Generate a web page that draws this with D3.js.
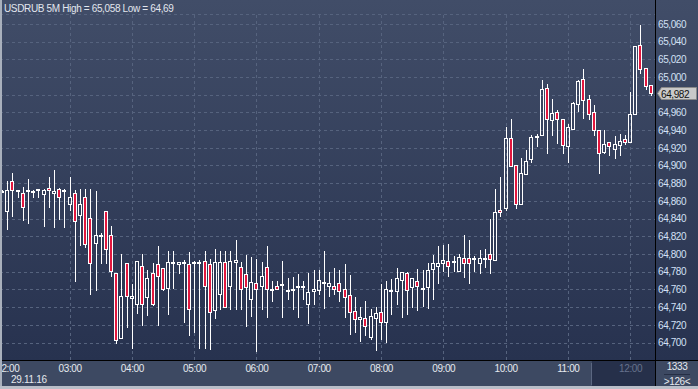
<!DOCTYPE html>
<html>
<head>
<meta charset="utf-8">
<script src="https://cdn.jsdelivr.net/npm/d3@7"></script>
<style>
body { margin: 0; background: #3c4862; }
svg { display: block; }
text { font-family: "Liberation Sans", Arial, sans-serif; }
</style>
</head>
<body>
<div id="chart"></div>
<script>
// 5 minute USDRUB candles, 29.11.16, first bar 01:55
var barStart = new Date(2016, 10, 29, 1, 55),
    barMinutes = 5;

var open = [64.871,64.849,64.883,64.871,64.869,64.872,64.871,64.872,64.868,64.875,64.869,64.874,64.872,64.856,64.869,64.844,64.864,64.841,64.812,64.822,
  64.849,64.822,64.779,64.705,64.790,64.750,64.743,64.786,64.751,64.778,64.789,64.784,64.762,64.791,64.789,64.791,64.789,64.791,64.790,64.792,
  64.789,64.737,64.755,64.791,64.764,64.791,64.785,64.777,64.749,64.767,64.764,64.785,64.761,64.764,64.766,64.759,64.759,64.764,64.764,64.743,
  64.758,64.759,64.768,64.764,64.764,64.767,64.761,64.754,64.736,64.727,64.728,64.706,64.728,64.734,64.723,64.759,64.758,64.771,64.778,64.763,
  64.770,64.760,64.763,64.783,64.786,64.790,64.792,64.792,64.781,64.796,64.795,64.795,64.790,64.795,64.800,64.793,64.850,64.852,64.931,64.900,
  64.856,64.890,64.907,64.933,64.934,64.988,64.951,64.960,64.953,64.922,64.941,64.969,64.998,64.975,64.960,64.940,64.915,64.926,64.919,64.923,
  64.930,64.927,64.958,65.036,65.010,64.991];
var high = [64.872,64.882,64.891,64.872,64.876,64.885,64.872,64.873,64.873,64.887,64.895,64.875,64.873,64.887,64.872,64.873,64.873,64.873,64.871,64.824,
  64.849,64.832,64.779,64.800,64.790,64.766,64.792,64.800,64.782,64.790,64.809,64.784,64.803,64.803,64.791,64.793,64.802,64.792,64.793,64.803,
  64.794,64.806,64.803,64.803,64.803,64.816,64.791,64.799,64.797,64.794,64.791,64.809,64.769,64.769,64.792,64.773,64.774,64.777,64.769,64.779,
  64.782,64.782,64.803,64.780,64.784,64.782,64.789,64.776,64.751,64.740,64.747,64.738,64.740,64.766,64.769,64.772,64.784,64.780,64.780,64.773,
  64.783,64.782,64.790,64.799,64.809,64.810,64.811,64.798,64.800,64.821,64.816,64.798,64.804,64.806,64.839,64.874,64.887,64.943,64.953,64.900,
  64.908,64.917,64.934,64.936,64.997,64.992,64.975,64.963,64.953,64.947,64.972,64.997,65.009,64.980,64.968,64.940,64.940,64.926,64.933,64.936,
  64.934,64.983,65.035,65.059,65.010,64.991];
var low = [64.870,64.828,64.843,64.864,64.838,64.835,64.864,64.864,64.832,64.853,64.831,64.839,64.831,64.850,64.770,64.810,64.808,64.755,64.759,64.790,
  64.790,64.775,64.700,64.705,64.718,64.694,64.733,64.720,64.731,64.742,64.720,64.759,64.732,64.762,64.779,64.723,64.709,64.712,64.694,64.694,
  64.693,64.728,64.738,64.740,64.738,64.738,64.738,64.719,64.730,64.690,64.738,64.729,64.747,64.760,64.729,64.749,64.738,64.729,64.749,64.722,
  64.744,64.755,64.739,64.753,64.755,64.747,64.729,64.710,64.712,64.702,64.709,64.704,64.691,64.704,64.701,64.732,64.743,64.729,64.732,64.740,
  64.737,64.741,64.739,64.749,64.767,64.781,64.775,64.781,64.781,64.774,64.767,64.781,64.778,64.785,64.779,64.793,64.843,64.850,64.899,64.852,
  64.856,64.890,64.904,64.922,64.934,64.914,64.934,64.925,64.914,64.904,64.941,64.962,64.954,64.953,64.934,64.891,64.914,64.912,64.908,64.912,
  64.924,64.926,64.958,65.005,64.986,64.980];
var close = [64.871,64.872,64.872,64.872,64.853,64.872,64.871,64.873,64.872,64.872,64.871,64.864,64.872,64.864,64.837,64.856,64.811,64.790,64.821,64.822,
  64.806,64.781,64.703,64.752,64.752,64.752,64.792,64.744,64.773,64.744,64.775,64.761,64.791,64.791,64.791,64.791,64.738,64.791,64.791,64.764,
  64.735,64.791,64.791,64.740,64.792,64.793,64.761,64.763,64.768,64.761,64.775,64.760,64.761,64.760,64.766,64.759,64.760,64.764,64.764,64.757,
  64.760,64.771,64.768,64.767,64.761,64.758,64.751,64.735,64.726,64.729,64.719,64.730,64.733,64.723,64.760,64.759,64.773,64.780,64.759,64.773,
  64.764,64.762,64.782,64.790,64.790,64.793,64.787,64.792,64.797,64.790,64.790,64.795,64.795,64.796,64.794,64.847,64.847,64.931,64.899,64.857,
  64.891,64.905,64.932,64.933,64.987,64.952,64.959,64.952,64.923,64.943,64.971,64.995,64.974,64.958,64.940,64.914,64.924,64.922,64.924,64.928,
  64.926,64.958,65.035,65.009,64.990,64.982];

var priceTicks = [64.70,64.72,64.74,64.76,64.78,64.80,64.82,64.84,64.86,64.88,64.90,64.92,64.94,64.96,64.98,65.00,65.02,65.04,65.06];
var hourLabels = ["02:00","03:00","04:00","05:00","06:00","07:00","08:00","09:00","10:00","11:00","12:00"];
var titleText = "USDRUB 5M High = 65,058 Low = 64,69",
    dateText = "29.11.16",
    infoTop = "1333",
    infoBottom = ">126<";

var width = 698, height = 389,
    plotRight = 655, plotBottom = 360, stripBottom = 386;

var upColour = "none", downColour = "#e2173e";

var svg = d3.select("#chart").append("svg")
    .attr("width", width)
    .attr("height", height);

var defs = svg.append("defs");
var grad = defs.append("linearGradient")
    .attr("id", "bg").attr("x1", 0).attr("y1", 0).attr("x2", 0).attr("y2", 1);
grad.append("stop").attr("offset", "0%").attr("stop-color", "#414d68");
grad.append("stop").attr("offset", "100%").attr("stop-color", "#27324f");

defs.append("clipPath").attr("id", "plotClip")
  .append("rect").attr("x", 2).attr("y", 0).attr("width", plotRight - 2).attr("height", plotBottom);
defs.append("clipPath").attr("id", "stripClip")
  .append("rect").attr("x", 2).attr("y", plotBottom).attr("width", plotRight - 2).attr("height", stripBottom - plotBottom);

// backgrounds
svg.append("rect").attr("x", 0).attr("y", 0).attr("width", width).attr("height", plotBottom)
    .attr("fill", "url(#bg)");
svg.append("rect").attr("x", 0).attr("y", plotBottom).attr("width", width).attr("height", stripBottom - plotBottom)
    .attr("fill", "#3d4962");

// scales
var parseHour = d3.timeParse("%Y-%m-%d %H:%M");
var times = open.map(function(d, i) {
    return d3.timeMinute.offset(barStart, i * barMinutes);
});
var x = d3.scaleTime()
    .domain([new Date(2016, 10, 29, 2, 0), new Date(2016, 10, 29, 12, 0)])
    .range([7.3, 630.1]);
var y = d3.scaleLinear()
    .domain([64.70, 65.06])
    .range([342.5, 23.9]);

var hourTimes = hourLabels.map(function(h) { return parseHour("2016-11-29 " + h); });

var commaLocale = d3.formatLocale({decimal: ",", thousands: ".", grouping: [3], currency: ["", ""]});
var priceFormat = commaLocale.format(".3f");

// grid
var grid = svg.append("g").attr("clip-path", "url(#plotClip)")
    .attr("stroke", "#56637e").attr("stroke-dasharray", "3,3").attr("stroke-width", 1);
grid.selectAll("line.h")
    .data(priceTicks)
    .enter().append("line")
    .attr("class", "h")
    .attr("x1", 0).attr("x2", plotRight)
    .attr("y1", function(d) { return Math.round(y(d)) + 0.5; })
    .attr("y2", function(d) { return Math.round(y(d)) + 0.5; });
grid.append("line").attr("x1", 0).attr("x2", plotRight).attr("y1", 14.5).attr("y2", 14.5);
grid.selectAll("line.v")
    .data(hourTimes.slice(1))
    .enter().append("line")
    .attr("class", "v")
    .attr("y1", 15).attr("y2", plotBottom)
    .attr("x1", function(d) { return Math.round(x(d)) + 0.5; })
    .attr("x2", function(d) { return Math.round(x(d)) + 0.5; });

// candles
var candles = svg.append("g").attr("clip-path", "url(#plotClip)");
var bars = candles.selectAll("g.bar")
    .data(open.map(function(d, i) {
        return {t: times[i], o: open[i], h: high[i], l: low[i], c: close[i]};
    }))
    .enter().append("g")
    .attr("class", "bar");

function cx(d) { return Math.round(x(d.t)); }
function bodyTop(d) { return Math.round(y(Math.max(d.o, d.c))) + 0.5; }
function bodyBottom(d) {
    var b = Math.round(y(Math.min(d.o, d.c))) + 0.5;
    return Math.max(b, bodyTop(d) + 1);
}

bars.append("line")
    .attr("x1", function(d) { return cx(d) + 0.5; })
    .attr("x2", function(d) { return cx(d) + 0.5; })
    .attr("y1", function(d) { return Math.round(y(d.h)); })
    .attr("y2", function(d) { return bodyTop(d); })
    .attr("stroke", "#fff");
bars.append("line")
    .attr("x1", function(d) { return cx(d) + 0.5; })
    .attr("x2", function(d) { return cx(d) + 0.5; })
    .attr("y1", function(d) { return bodyBottom(d); })
    .attr("y2", function(d) { return Math.round(y(d.l)) + 1; })
    .attr("stroke", "#fff");
bars.append("rect")
    .attr("x", function(d) { return cx(d) - 1.5; })
    .attr("width", 3)
    .attr("y", function(d) { return bodyTop(d); })
    .attr("height", function(d) { return bodyBottom(d) - bodyTop(d); })
    .attr("fill", function(d) { return d.c < d.o ? downColour : upColour; })
    .attr("stroke", "#fff")
    .attr("stroke-width", 1);

// current hour box in the time strip
var lastHour = hourTimes[hourTimes.length - 1];
var boxLeft = Math.round(x(lastHour)) - 38;
svg.append("rect")
    .attr("x", boxLeft).attr("y", plotBottom + 1)
    .attr("width", plotRight - boxLeft).attr("height", stripBottom - plotBottom - 1)
    .attr("fill", "#26304a");
svg.append("line")
    .attr("x1", boxLeft - 0.5).attr("x2", boxLeft - 0.5)
    .attr("y1", plotBottom + 3).attr("y2", stripBottom - 1)
    .attr("stroke", "#5b6781");

// time axis labels
var xAxis = d3.axisBottom(x)
    .tickValues(hourTimes)
    .tickSize(0)
    .tickFormat(d3.timeFormat("%H:%M"));
var xg = svg.append("g")
    .attr("clip-path", "url(#stripClip)")
    .append("g")
    .attr("transform", "translate(0," + (plotBottom + 2) + ")")
    .call(xAxis);
xg.select(".domain").remove();
xg.selectAll("text")
    .attr("font-size", "10px")
    .attr("font-family", "'Liberation Sans', Arial, sans-serif")
    .attr("letter-spacing", "-0.4px")
    .attr("fill", function(d) { return +d === +lastHour ? "#67728c" : "#e6e9ef"; });

svg.append("text")
    .attr("x", 11).attr("y", 383)
    .attr("font-size", "10px").attr("letter-spacing", "-0.3px")
    .attr("fill", "#e6e9ef")
    .text(dateText);

// price axis (the label under the last price marker is hidden by it)
var lastClose = close[close.length - 1];
var ly = Math.round(y(lastClose)) + 0.5;
var yAxis = d3.axisRight(y)
    .tickValues(priceTicks.filter(function(p) { return Math.abs(y(p) - ly) > 8; }))
    .tickSize(0)
    .tickPadding(3)
    .tickFormat(priceFormat);
var yg = svg.append("g")
    .attr("transform", "translate(" + plotRight + ",0)")
    .call(yAxis);
yg.select(".domain").remove();
yg.selectAll("text")
    .attr("font-size", "10px")
    .attr("font-family", "'Liberation Sans', Arial, sans-serif")
    .attr("letter-spacing", "-0.4px")
    .attr("fill", "#d3e0f5");

// last price marker
svg.append("path")
    .attr("d", "M657.5," + ly + " L661.5," + (ly - 6) + " L696.5," + (ly - 6) +
               " L696.5," + (ly + 6) + " L661.5," + (ly + 6) + " Z")
    .attr("fill", "#c9c9c9")
    .attr("stroke", "#8a8a8a");
svg.append("text")
    .attr("x", 661).attr("y", ly + 4)
    .attr("font-size", "10px").attr("letter-spacing", "-0.4px")
    .attr("fill", "#111")
    .text(priceFormat(lastClose));

// separators and frame
svg.append("line")
    .attr("x1", plotRight + 0.5).attr("x2", plotRight + 0.5)
    .attr("y1", 0).attr("y2", stripBottom)
    .attr("stroke", "#000");
svg.append("line")
    .attr("x1", 0).attr("x2", width)
    .attr("y1", plotBottom + 0.5).attr("y2", plotBottom + 0.5)
    .attr("stroke", "#000");
svg.append("rect").attr("x", 0).attr("y", 0).attr("width", 2).attr("height", height).attr("fill", "#a9b0bc");
svg.append("rect").attr("x", 0).attr("y", stripBottom).attr("width", width).attr("height", height - stripBottom).attr("fill", "#b9bec8");

// info cell
svg.append("text")
    .attr("x", 677).attr("y", 370).attr("text-anchor", "middle")
    .attr("font-size", "10px").attr("letter-spacing", "-0.4px")
    .attr("fill", "#e6e9ef")
    .text(infoTop);
svg.append("line")
    .attr("x1", 664).attr("x2", 690).attr("y1", 374.5).attr("y2", 374.5)
    .attr("stroke", "#262f45");
svg.append("text")
    .attr("x", 677).attr("y", 384.5).attr("text-anchor", "middle")
    .attr("font-size", "10px").attr("letter-spacing", "-0.4px")
    .attr("fill", "#e6e9ef")
    .text(infoBottom);

// title
svg.append("text")
    .attr("x", 4).attr("y", 11.5)
    .attr("font-size", "10px").attr("letter-spacing", "-0.35px")
    .attr("fill", "#e2e6ee")
    .text(titleText);
</script>
</body>
</html>
